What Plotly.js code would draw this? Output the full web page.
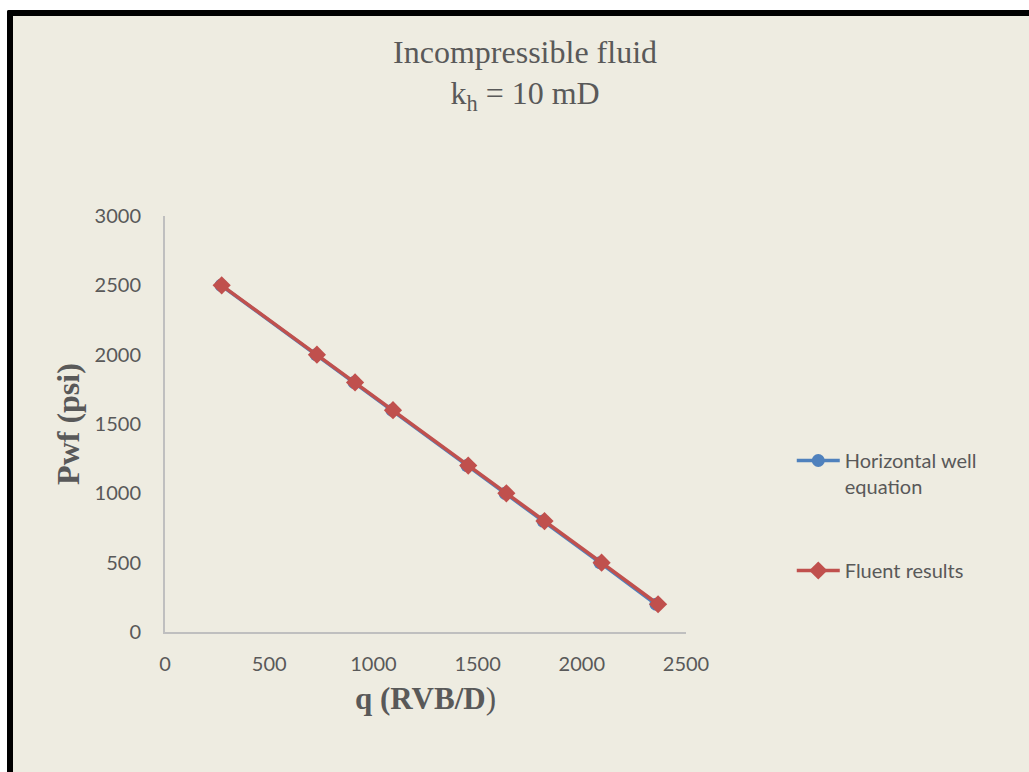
<!DOCTYPE html>
<html>
<head>
<meta charset="utf-8">
<script src="https://cdn.plot.ly/plotly-3.0.1.min.js"></script>
<style>
  html, body { margin: 0; padding: 0; background: #ffffff; width: 1029px; height: 772px; overflow: hidden; }
  #frame { position: absolute; left: 7px; top: 10px; width: 1022px; height: 762px;
           border-left: 6px solid #000; border-top: 6px solid #000; border-top-left-radius: 2px; box-sizing: border-box; background: #EEECE1; }
  #plot { position: absolute; left: 13px; top: 16px; width: 1016px; height: 756px; }
</style>
</head>
<body>
<div id="frame"></div>
<div id="plot"></div>
<script>
// Data
const pwf = [2500, 2000, 1800, 1600, 1200, 1000, 800, 500, 200];
const qEquation = [269, 725, 907, 1089, 1449, 1632, 1814, 2087, 2356];
const qFluent = [272, 729, 912, 1094, 1455, 1638, 1821, 2095, 2366];
const xTicks = [0, 500, 1000, 1500, 2000, 2500];
const yTicks = [0, 500, 1000, 1500, 2000, 2500, 3000];
const seriesNames = ["Horizontal well<br>equation", "Fluent results"];

const tickFont = { family: "Lato, 'Open Sans', sans-serif", size: 20, color: "#595959" };
const serif = "'Liberation Serif', 'Times New Roman', serif";

const traces = [
  {
    x: qEquation, y: pwf, type: "scatter", mode: "lines+markers",
    name: seriesNames[0], legendgroup: "a",
    line: { color: "#4F81BD", width: 3.5 },
    marker: { symbol: "circle", size: 13, color: "#4F81BD" }
  },
  {
    x: qFluent, y: pwf, type: "scatter", mode: "lines+markers",
    name: seriesNames[1], legendgroup: "b",
    line: { color: "#C0504D", width: 3.5 },
    marker: { symbol: "diamond", size: 14, color: "#C0504D" }
  }
];

const layout = {
  width: 1016, height: 756,
  paper_bgcolor: "#EEECE1", plot_bgcolor: "#EEECE1",
  margin: { l: 152, r: 343, t: 200, b: 140 },
  title: {
    text: "Incompressible fluid<br>k<sub>h</sub> = 10 mD",
    font: { family: serif, size: 32, color: "#595959" },
    x: 0.504, xref: "container", xanchor: "center",
    y: 0.938, yref: "container", yanchor: "middle"
  },
  xaxis: {
    range: [0, 2500], tickvals: xTicks, ticktext: xTicks.map(String),
    showgrid: false, zeroline: false, showline: true, linecolor: "#BFBFBF", linewidth: 2,
    ticks: "outside", ticklen: 13, tickcolor: "rgba(0,0,0,0)",
    tickfont: tickFont,
    title: { text: "<b>q (RVB/D</b>)", font: { family: serif, size: 31, color: "#595959" }, standoff: 13 }
  },
  yaxis: {
    range: [0, 3000], tickvals: yTicks, ticktext: yTicks.map(String),
    showgrid: false, zeroline: false, showline: true, linecolor: "#BFBFBF", linewidth: 2,
    ticks: "outside", ticklen: 18, tickcolor: "rgba(0,0,0,0)",
    tickfont: tickFont,
    title: { text: "<b>Pwf (psi)</b>", font: { family: serif, size: 32, color: "#595959" }, standoff: 5 }
  },
  showlegend: true,
  legend: {
    x: 1.203, xanchor: "left", y: 0.28, yanchor: "middle",
    bgcolor: "rgba(0,0,0,0)", font: tickFont, valign: "top",
    itemwidth: 43,
    traceorder: "grouped", tracegroupgap: 55
  }
};

Plotly.newPlot("plot", traces, layout, { displayModeBar: false, staticPlot: true });
</script>
</body>
</html>
